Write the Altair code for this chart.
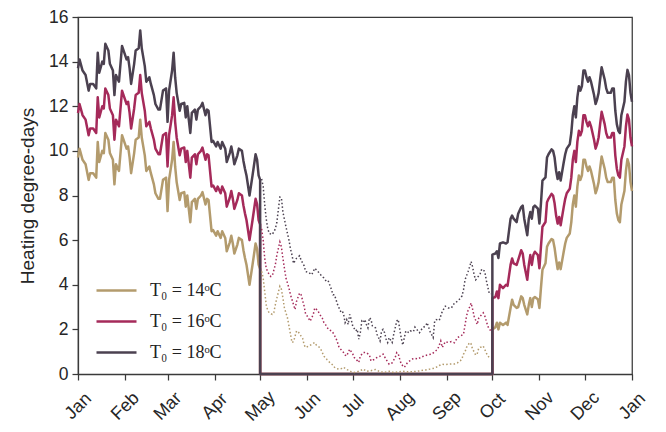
import altair as alt
import pandas as pd

# ---------------- data ----------------
series = ["T₀ = 14ᵒC", "T₀ = 16ᵒC", "T₀ = 18ᵒC"]
colors = ["#b39b6d", "#a52a5a", "#4b4150"]

month_starts = [0, 31, 59, 90, 120, 151, 181, 212, 243, 273, 304, 334, 365]
month_names = ["Jan", "Feb", "Mar", "Apr", "May", "Jun", "Jul", "Aug", "Sep", "Oct", "Nov", "Dec", "Jan"]

# heating season boundaries (day of year)
season_end_day = 120     # 1 May
season_start_day = 273   # 1 Oct

# Jan - Apr (solid)
days_jan_apr = [0, 1, 3, 5, 7, 8, 10, 12, 13, 14, 16, 17, 18, 20, 21, 23, 24, 25, 27, 29,
                30, 32, 33, 34, 35, 37, 38, 40, 41, 42, 44, 45, 47, 48, 50, 51, 53, 54, 56, 58,
                59, 60, 62, 63, 64, 65, 67, 68, 70, 71, 72, 74, 75, 77, 78, 79, 81, 82, 84, 85,
                86, 88, 89, 91, 92, 94, 95, 97, 98, 100, 101, 102, 103, 105, 106, 108, 109, 110, 111, 113,
                115, 117, 118, 119, 120]
hdd18_jan_apr = [13.7, 14.1, 13.6, 13.4, 12.7, 13.0, 13.0, 12.8, 14.4, 13.5,
                 14.0, 13.9, 14.8, 14.5, 13.9, 13.6, 12.5, 13.4, 13.1, 14.7,
                 14.5, 14.1, 14.2, 13.7, 13.0, 13.9, 14.5, 14.6, 15.4, 14.6,
                 13.8, 13.1, 13.3, 13.0, 12.5, 12.1, 11.85, 11.85, 12.7, 12.8,
                 11.3, 12.7, 13.6, 14.4, 13.3, 12.6, 11.8, 12.1, 12.15, 11.5,
                 12.0, 10.8, 11.7, 11.85, 11.4, 11.85, 12.0, 12.15, 11.6, 11.85,
                 11.8, 10.4, 10.45, 10.2, 10.4, 10.1, 10.4, 10.1, 9.5, 9.9,
                 10.2, 9.85, 9.4, 9.8, 10.1, 10.0, 9.55, 9.2, 8.9, 8.0,
                 8.9, 9.85, 9.6, 8.9, 8.7]
hdd16_jan_apr = [11.7, 12.1, 11.6, 11.4, 10.7, 11.0, 11.0, 10.8, 12.4, 11.5,
                 12.0, 11.9, 12.8, 12.5, 11.9, 11.6, 10.5, 11.4, 11.1, 12.7,
                 12.5, 12.1, 12.2, 11.7, 11.0, 11.9, 12.5, 12.6, 13.4, 12.6,
                 11.8, 11.1, 11.3, 11.0, 10.5, 10.1, 9.85, 9.85, 10.7, 10.8,
                 9.3, 10.7, 11.6, 12.4, 11.3, 10.6, 9.8, 10.1, 10.15, 9.5,
                 10.0, 8.8, 9.7, 9.85, 9.4, 9.85, 10.0, 10.15, 9.6, 9.85,
                 9.8, 8.4, 8.45, 8.2, 8.4, 8.1, 8.4, 8.1, 7.5, 7.9,
                 8.2, 7.85, 7.4, 7.8, 8.1, 8.0, 7.55, 7.2, 6.9, 6.0,
                 6.9, 7.85, 7.6, 6.9, 6.7]
hdd14_jan_apr = [9.7, 10.1, 9.6, 9.4, 8.7, 9.0, 9.0, 8.8, 10.4, 9.5,
                 10.0, 9.9, 10.8, 10.5, 9.9, 9.6, 8.5, 9.4, 9.1, 10.7,
                 10.5, 10.1, 10.2, 9.7, 9.0, 9.9, 10.5, 10.6, 11.4, 10.6,
                 9.8, 9.1, 9.3, 9.0, 8.5, 8.1, 7.85, 7.85, 8.7, 8.8,
                 7.3, 8.7, 9.6, 10.4, 9.3, 8.6, 7.8, 8.1, 8.15, 7.5,
                 8.0, 6.8, 7.7, 7.85, 7.4, 7.85, 8.0, 8.15, 7.6, 7.85,
                 7.8, 6.4, 6.45, 6.2, 6.4, 6.1, 6.4, 6.1, 5.5, 5.9,
                 6.2, 5.85, 5.4, 5.8, 6.1, 6.0, 5.55, 5.2, 4.9, 4.0,
                 4.9, 5.85, 5.6, 4.9, 4.7]

# Oct - Dec (solid)
days_oct_dec = [273, 275, 276, 277, 278, 280, 282, 283, 285, 286,
                287, 289, 290, 292, 293, 294, 296, 297, 298, 299,
                300, 301, 303, 304, 305, 306, 308, 309, 310, 312,
                313, 314, 315, 316, 317, 318, 320, 321, 322, 324,
                325, 326, 327, 328, 329, 330, 331, 332, 333, 334,
                335, 336, 337, 338, 339, 340, 341, 342, 343, 344,
                345, 347, 348, 349, 351, 352, 353, 354, 355, 356,
                357, 358, 360, 361, 362, 363, 364, 365]
hdd18_oct_dec = [5.35, 5.4, 5.5, 5.2, 5.85, 5.9, 5.85, 5.9, 6.96, 7.1,
                 6.96, 6.81, 7.18, 7.48, 7.55, 6.96, 6.22, 6.96, 7.26, 6.96,
                 7.48, 7.55, 7.41, 6.74, 7.63, 8.67, 8.81, 9.7, 9.85, 10.07,
                 10.0, 9.7, 9.11, 8.74, 9.04, 8.67, 9.48, 9.85, 10.1, 10.3,
                 10.8, 11.6, 12.0, 11.5, 12.4, 12.9, 12.7, 12.9, 13.6, 13.6,
                 13.3, 13.1, 13.3, 13.1, 12.8, 12.5, 12.1, 12.3, 12.6, 13.2,
                 13.75, 13.2, 12.8, 12.6, 12.6, 12.8, 12.8, 11.8, 11.2, 10.9,
                 10.8, 11.6, 12.2, 13.1, 13.63, 13.4, 12.6, 12.2]
hdd16_oct_dec = [3.4, 3.45, 3.7, 3.4, 4.0, 3.85, 4.0, 3.95, 4.89, 5.18,
                 4.96, 4.89, 5.1, 5.55, 5.4, 4.9, 4.22, 4.89, 5.33, 4.89,
                 5.33, 5.48, 5.33, 4.74, 5.7, 6.6, 6.81, 7.7, 7.85, 8.07,
                 8.0, 7.65, 7.1, 6.74, 7.04, 6.67, 7.48, 7.85, 8.1, 8.3,
                 8.8, 9.6, 10.0, 9.5, 10.4, 10.9, 10.7, 10.9, 11.6, 11.6,
                 11.3, 11.1, 11.3, 11.1, 10.8, 10.5, 10.1, 10.3, 10.6, 11.2,
                 11.75, 11.2, 10.8, 10.6, 10.6, 10.8, 10.8, 9.8, 9.2, 8.9,
                 8.8, 9.6, 10.2, 11.1, 11.63, 11.4, 10.6, 10.2]
hdd14_oct_dec = [2.0, 2.1, 2.3, 2.0, 2.3, 2.2, 2.3, 2.2, 2.96, 3.33,
                 3.1, 2.96, 3.0, 3.48, 3.4, 3.1, 2.67, 3.1, 3.4, 3.0,
                 3.4, 3.45, 3.35, 2.96, 3.85, 4.67, 4.96, 5.7, 5.85, 6.05,
                 6.0, 5.65, 5.15, 4.7, 5.0, 4.7, 5.48, 5.85, 6.1, 6.3,
                 6.8, 7.6, 8.0, 7.5, 8.4, 8.9, 8.7, 8.9, 9.6, 9.6,
                 9.3, 9.1, 9.3, 9.1, 8.8, 8.5, 8.1, 8.3, 8.6, 9.2,
                 9.75, 9.2, 8.8, 8.6, 8.6, 8.8, 8.8, 7.8, 7.2, 6.9,
                 6.8, 7.6, 8.2, 9.1, 9.63, 9.4, 8.6, 8.2]

# May - Sep (dotted, outside heating season)
days18_summer = [121, 122, 123, 124, 125, 126, 128, 130, 131, 133,
                 134, 135, 137, 139, 140, 141, 142, 144, 146, 147,
                 149, 150, 152, 154, 156, 158, 160, 162, 164, 165,
                 167, 168, 169, 170, 171, 173, 174, 175, 176, 177,
                 178, 179, 180, 181, 183, 184, 185, 186, 187, 188,
                 189, 190, 191, 192, 193, 194, 196, 197, 198, 199,
                 200, 201, 202, 203, 204, 205, 207, 208, 209, 210,
                 211, 212, 213, 214, 215, 216, 217, 218, 219, 221,
                 222, 224, 225, 227, 229, 230, 232, 234, 235, 236,
                 238, 240, 242, 244, 246, 248, 250, 252, 253, 254,
                 255, 257, 258, 259, 260, 261, 262, 263, 265, 266,
                 268, 269, 270, 271, 272]
hdd18_summer = [8.74, 8.4, 7.6, 6.96, 6.52, 6.3, 6.25, 6.5, 6.8, 7.93,
                7.9, 7.26, 6.6, 6.0, 5.6, 5.33, 4.96, 5.19, 5.3, 5.1,
                4.85, 4.59, 4.55, 4.45, 4.74, 4.6, 4.44, 4.3, 4.12, 4.15,
                3.78, 3.55, 3.55, 3.33, 3.11, 2.81, 2.85, 2.67, 2.3, 2.44,
                2.22, 2.67, 2.44, 2.15, 1.93, 2.0, 1.56, 1.85, 2.37, 2.3,
                2.44, 2.22, 2.07, 2.52, 2.45, 2.15, 2.07, 1.78, 1.63, 1.48,
                1.93, 2.0, 1.85, 1.56, 1.41, 1.63, 1.41, 1.78, 2.07, 2.37,
                2.44, 2.0, 1.6, 1.3, 1.63, 1.93, 1.9, 1.85, 1.93, 1.9,
                2.1, 1.93, 1.85, 2.07, 2.15, 2.3, 1.9, 1.63, 2.37, 2.44,
                2.4, 2.8, 3.04, 2.96, 2.96, 3.18, 3.26, 3.4, 3.5, 3.78,
                4.22, 4.59, 4.8, 5.04, 4.8, 4.44, 4.22, 4.3, 4.5, 4.7,
                4.6, 4.2, 3.9, 3.6, 3.6]
days16_summer = [121, 122, 123, 124, 126, 127, 128, 130, 131, 133,
                 134, 135, 136, 137, 139, 140, 142, 143, 144, 146,
                 147, 149, 150, 151, 153, 155, 156, 158, 159, 161,
                 162, 163, 165, 167, 168, 170, 171, 172, 174, 175,
                 176, 177, 178, 179, 181, 182, 184, 185, 186, 188,
                 190, 192, 193, 195, 197, 199, 201, 203, 205, 207,
                 209, 210, 211, 212, 213, 215, 217, 220, 222, 224,
                 226, 228, 230, 233, 235, 237, 239, 240, 242, 244,
                 246, 248, 250, 252, 254, 255, 256, 257, 258, 259,
                 260, 261, 263, 264, 265, 267, 268, 269, 270, 271,
                 272]
hdd16_summer = [6.5, 6.0, 5.2, 4.74, 4.44, 4.37, 4.4, 4.89, 5.33, 5.92,
                5.7, 5.19, 4.74, 4.3, 3.85, 3.55, 3.11, 2.89, 3.26, 3.63,
                3.55, 3.04, 2.67, 2.6, 2.37, 2.67, 2.96, 2.85, 2.7, 2.5,
                2.3, 2.22, 2.0, 1.93, 1.85, 1.6, 1.41, 1.19, 1.04, 0.96,
                0.85, 0.81, 0.96, 1.11, 0.9, 0.74, 0.6, 0.52, 0.81, 0.96,
                0.96, 0.85, 0.59, 0.65, 0.74, 0.8, 0.89, 0.65, 0.44, 0.5,
                0.74, 0.96, 0.9, 0.65, 0.44, 0.3, 0.5, 0.67, 0.7, 0.67,
                0.75, 0.81, 0.85, 0.89, 1.0, 1.11, 1.48, 1.19, 1.45, 1.41,
                1.45, 1.4, 1.63, 1.7, 1.78, 2.2, 2.6, 2.85, 3.0, 3.18,
                2.9, 2.59, 2.22, 2.5, 2.59, 2.74, 2.6, 2.37, 2.15, 2.0,
                1.95]
days14_summer = [121, 122, 123, 124, 125, 126, 128, 129, 130, 131,
                 133, 134, 135, 136, 138, 139, 140, 141, 142, 144,
                 145, 147, 148, 149, 150, 152, 154, 156, 157, 159,
                 160, 161, 162, 164, 165, 166, 168, 169, 170, 172,
                 174, 175, 177, 179, 180, 182, 184, 186, 188, 190,
                 193, 196, 199, 202, 205, 208, 211, 214, 217, 220,
                 223, 226, 229, 232, 234, 236, 238, 240, 242, 244,
                 246, 248, 250, 252, 253, 254, 255, 256, 257, 258,
                 259, 260, 261, 262, 263, 264, 265, 266, 267, 268,
                 269, 270, 271, 272]
hdd14_summer = [4.6, 4.3, 3.7, 3.1, 2.85, 2.74, 2.67, 2.75, 3.1, 3.4,
                3.93, 3.8, 3.41, 2.96, 2.52, 2.15, 1.78, 1.41, 1.45, 1.93,
                1.9, 1.7, 1.6, 1.3, 1.19, 1.25, 1.33, 1.41, 1.3, 1.2,
                1.1, 0.96, 0.8, 0.65, 0.59, 0.5, 0.4, 0.3, 0.25, 0.22,
                0.25, 0.3, 0.2, 0.15, 0.1, 0.07, 0.1, 0.15, 0.22, 0.12,
                0.15, 0.2, 0.1, 0.08, 0.12, 0.07, 0.1, 0.12, 0.1, 0.1,
                0.12, 0.15, 0.18, 0.22, 0.25, 0.3, 0.38, 0.44, 0.42, 0.44,
                0.45, 0.45, 0.5, 0.6, 0.7, 0.89, 1.0, 1.2, 1.3, 1.41,
                1.35, 1.1, 1.0, 0.85, 0.9, 1.15, 1.2, 1.2, 1.25, 1.1,
                0.95, 0.8, 0.75, 0.75]

# ---------------- tables ----------------
solid_rows = []
for name, w_vals, r_vals in zip(series,
                                [hdd14_jan_apr, hdd16_jan_apr, hdd18_jan_apr],
                                [hdd14_oct_dec, hdd16_oct_dec, hdd18_oct_dec]):
    pts = (list(zip(days_jan_apr, w_vals))
           + [(season_end_day, 0.0), (season_start_day, 0.0)]
           + list(zip(days_oct_dec, r_vals)))
    for i, (d, v) in enumerate(pts):
        solid_rows.append({"day": d, "hdd": v, "series": name, "idx": i})
solid_df = pd.DataFrame(solid_rows)

dot_rows = []
for name, dd, vv in zip(series,
                        [days14_summer, days16_summer, days18_summer],
                        [hdd14_summer, hdd16_summer, hdd18_summer]):
    for i, (d, v) in enumerate(zip(dd, vv)):
        dot_rows.append({"day": d, "hdd": v, "series": name, "idx": i})
dot_df = pd.DataFrame(dot_rows)

# ---------------- chart ----------------
label_expr = "{}[indexof({}, datum.value)]".format(
    "[" + ",".join("'%s'" % m for m in month_names) + "]",
    "[" + ",".join(str(m) for m in month_starts) + "]")

x_enc = alt.X("day:Q",
              scale=alt.Scale(domain=[0, 365], nice=False, zero=False),
              axis=alt.Axis(values=month_starts, labelExpr=label_expr, title=None,
                            labelAngle=315, labelAlign="center", labelBaseline="middle",
                            labelPadding=26, tickSize=6, labelFontSize=18))
y_enc = alt.Y("hdd:Q",
              scale=alt.Scale(domain=[0, 16], nice=False),
              axis=alt.Axis(values=list(range(0, 17, 2)), title="Heating degree-days",
                            tickSize=6, labelPadding=4, labelFontSize=17.5,
                            titleFontSize=19, titlePadding=11))
color_scale = alt.Scale(domain=series, range=colors)

solid = alt.Chart(solid_df).mark_line(strokeWidth=2.5, strokeJoin="round").encode(
    x=x_enc, y=y_enc,
    color=alt.Color("series:N", scale=color_scale,
                    legend=alt.Legend(orient="none", legendX=17, legendY=252, title=None,
                                      symbolType="stroke", symbolSize=1600,
                                      symbolStrokeWidth=2.5, labelFont="Liberation Serif",
                                      labelFontSize=18, labelOffset=12, rowPadding=-10.5,
                                      labelColor="#222222")),
    order=alt.Order("idx:Q"))

dotted = alt.Chart(dot_df).mark_line(strokeWidth=1.5, strokeDash=[1.5, 2.2],
                                     strokeCap="butt").encode(
    x=x_enc, y=y_enc,
    color=alt.Color("series:N", scale=color_scale, legend=None),
    order=alt.Order("idx:Q"))

chart = alt.layer(solid, dotted).properties(
    width=554, height=357,
    padding={"left": 70, "top": 9, "right": 26, "bottom": 50},
    autosize=alt.AutoSizeParams(type="none"),
    background="white",
).configure_view(
    stroke="#3a3a3a", strokeWidth=1.25
).configure_axis(
    grid=False, domainColor="#3a3a3a", domainWidth=1.25,
    tickColor="#3a3a3a", tickWidth=1.25,
    labelFont="Liberation Sans", titleFont="Liberation Sans",
    labelColor="#262626", titleColor="#262626", titleFontWeight="normal"
)

chart.save("out.html", embed_options={"renderer": "svg", "actions": False})
